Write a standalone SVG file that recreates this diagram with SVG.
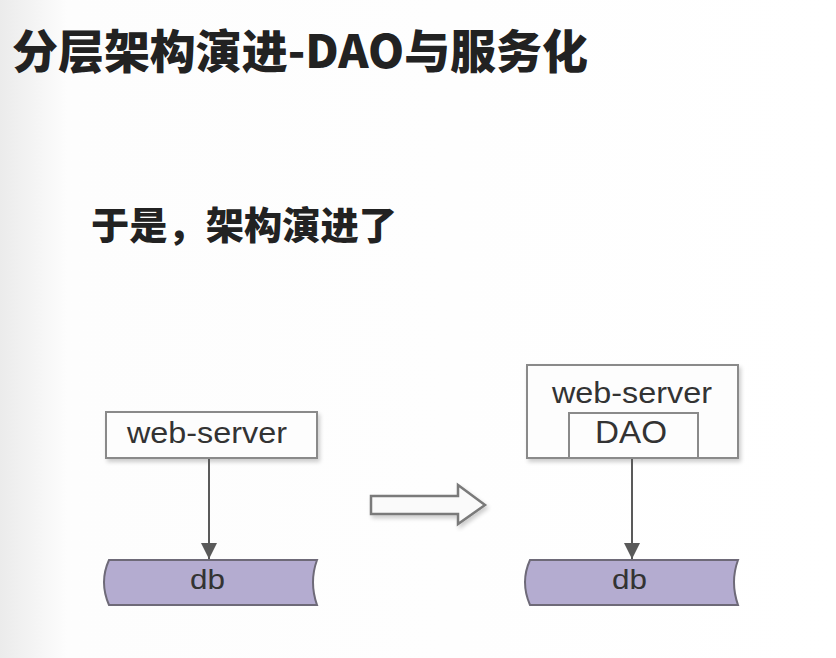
<svg xmlns="http://www.w3.org/2000/svg" width="836" height="658" viewBox="0 0 836 658">
<defs>
<linearGradient id="bg" x1="0" y1="0" x2="1" y2="0">
<stop offset="0" stop-color="#ebebeb"/>
<stop offset="0.08" stop-color="#fdfdfd"/>
<stop offset="1" stop-color="#ffffff"/>
</linearGradient>
<marker id="ah" markerWidth="16" markerHeight="16" refX="16" refY="8" orient="auto" markerUnits="userSpaceOnUse">
<path d="M0,0 L16,8 L0,16 Z" fill="#5a5a5a"/>
</marker>
<filter id="sh" x="-10%" y="-10%" width="130%" height="140%">
<feGaussianBlur in="SourceAlpha" stdDeviation="2"/>
<feOffset dx="2" dy="3" result="b"/>
<feComponentTransfer><feFuncA type="linear" slope="0.2"/></feComponentTransfer>
<feMerge><feMergeNode/><feMergeNode in="SourceGraphic"/></feMerge>
</filter>
</defs>
<style>
.h{font-family:"Noto Sans CJK SC","Noto Sans",sans-serif;font-weight:900;fill:#222}
.t{font-family:"Liberation Sans",Arial,sans-serif;fill:#333}
.box{fill:#fdfdfd;stroke:#8a8a8a;stroke-width:2}
.db{fill:#b4acd0;stroke:#6e6a78;stroke-width:2}
.ln{stroke:#5a5a5a;stroke-width:2;fill:none}
</style>
<rect x="0" y="0" width="836" height="658" fill="url(#bg)"/>
<text class="h" x="12" y="68" font-size="46" textLength="576" lengthAdjust="spacingAndGlyphs">分层架构演进-DAO与服务化</text>
<text class="h" x="91" y="239" font-size="38" font-weight="bold" textLength="306" lengthAdjust="spacingAndGlyphs">于是，架构演进了</text>

<g id="left-web-server">
<rect class="box" x="106" y="412" width="211" height="46" filter="url(#sh)"/>
<text class="t" x="127" y="443" font-size="29" textLength="160" lengthAdjust="spacingAndGlyphs">web-server</text>
</g>
<g id="left-db">
<path class="db" d="M109,560 L317,560 Q309,582 317,605 L109,605 Q99,582 109,560 Z"/>
<text class="t" x="190" y="589" font-size="28" textLength="35" lengthAdjust="spacingAndGlyphs" fill="#2a2540">db</text>
</g>

<g id="transition-arrow">
<path d="M371,496 L458,496 L458,485 L485,505 L458,524 L458,514 L371,514 Z" fill="#fafafa" stroke="#7a7a7a" stroke-width="2.5" stroke-linejoin="miter" filter="url(#sh)"/>
</g>

<g id="right-web-server">
<rect class="box" x="527" y="365" width="211" height="93" filter="url(#sh)"/>
<text class="t" x="552" y="403" font-size="29" textLength="160" lengthAdjust="spacingAndGlyphs">web-server</text>
</g>
<g id="right-dao">
<rect class="box" x="569" y="413" width="129" height="45"/>
<text class="t" x="595" y="443" font-size="31" textLength="72" lengthAdjust="spacingAndGlyphs">DAO</text>
</g>
<g id="right-db">
<path class="db" d="M530,560 L738,560 Q730,582 738,605 L530,605 Q520,582 530,560 Z"/>
<text class="t" x="612" y="589" font-size="28" textLength="35" lengthAdjust="spacingAndGlyphs" fill="#2a2540">db</text>
</g>

<g id="connectors">
<line class="ln" x1="209" y1="459" x2="209" y2="559" marker-end="url(#ah)"/>
<line class="ln" x1="632" y1="459" x2="632" y2="559" marker-end="url(#ah)"/>
</g>
</svg>
